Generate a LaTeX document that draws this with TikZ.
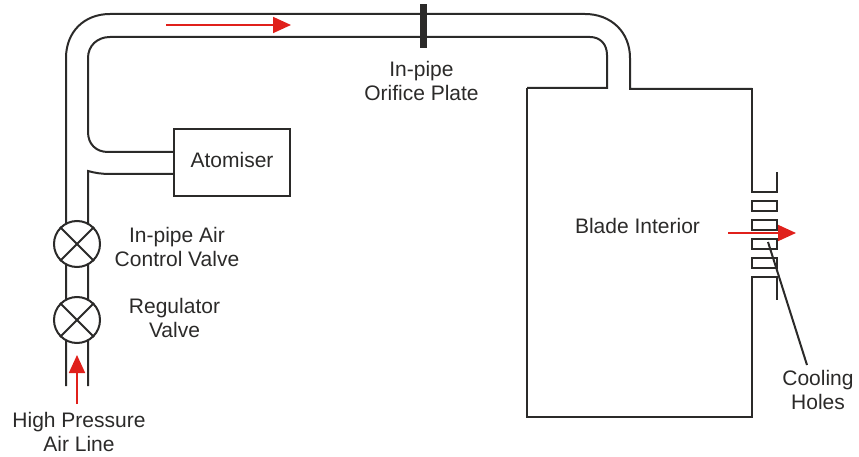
\documentclass[tikz,border=0pt]{standalone}
\usepackage{fontspec}
\setmainfont{Liberation Sans}
\usetikzlibrary{arrows.meta}
\definecolor{ink}{HTML}{2B2A29}
\definecolor{flow}{HTML}{E0201B}
\tikzset{
  pipe/.style={draw=ink,line width=2pt},
  thick wall/.style={draw=ink,line width=2.6pt},
  label/.style={font=\fontsize{21}{24}\selectfont,text=ink,align=center,inner sep=0pt},
  redarrow/.style={draw=flow,line width=1.8pt,-{Triangle[length=18pt,width=16pt,fill=flow]}},
  valve/.style={circle,draw=ink,line width=2pt,minimum size=46pt,inner sep=0pt,fill=white}
}
\begin{document}
\begin{tikzpicture}[x=1pt,y=-1pt]
\useasboundingbox (0,0) rectangle (859,457);
% anchors
\coordinate (outS) at (66,386);
\coordinate (innS) at (88,386);
\coordinate (outE) at (630,89);
\coordinate (innE) at (607,88);
% pipe walls
\draw[pipe] (outS) -- (66,58) .. controls (66,32) and (84,14) .. (110,14) -- (585,14) .. controls (611,14) and (630,32) .. (630,58) -- (outE) -- (752,89);
\draw[pipe] (527,88) -- (innE) -- (607,55) .. controls (607,44) and (600,37) .. (590,37) -- (110,37) .. controls (97,37) and (88,46) .. (88,58) -- (88,132) .. controls (88,144) and (96,152) .. (108,152) -- (174,152);
\draw[pipe] (innS) -- (88,171) .. controls (95,173) and (102,174) .. (110,174) -- (174,174);
% blade
\draw[pipe] (527,88) -- (527,417) -- (752,417) -- (752,277) -- (777,277) -- (777,300);
\draw[pipe] (752,88) -- (752,192) -- (777,192) -- (777,172);
\draw[thick wall] (752,201) rectangle (777,211);
\draw[thick wall] (752,220) rectangle (777,230);
\draw[thick wall] (752,239) rectangle (777,249);
\draw[thick wall] (752,258) rectangle (777,268);
% atomiser
\node[draw=ink,line width=2pt,minimum width=116pt,minimum height=67pt,inner sep=0pt,label] (atom) at (232,162.5) {\raisebox{6pt}{Atomiser}};
% valves
\node[valve] (v1) at (77,244) {};
\node[valve] (v2) at (77,320) {};
\foreach \v in {v1,v2}{
  \draw[pipe] (\v.north west) -- (\v.south east);
  \draw[pipe] (\v.north east) -- (\v.south west);
}
% orifice plate
\node[fill=ink,minimum width=7pt,minimum height=44pt,inner sep=0pt] (plate) at (423.5,26) {};
% red arrows
\coordinate (a1s) at (166,25); \coordinate (a1e) at (291,25);
\coordinate (a2s) at (77,404); \coordinate (a2e) at (77,355);
\coordinate (a3s) at (728,233); \coordinate (a3e) at (796,233);
\draw[redarrow] (a1s) -- (a1e);
\draw[redarrow] (a2s) -- (a2e);
\draw[redarrow] (a3s) -- (a3e);
% leader
\coordinate (l1) at (768,242); \coordinate (l2) at (807,365);
\draw[ink,line width=2pt] (l1) -- (l2);
% labels
\node[label] (t1) at (421.5,81) {In-pipe\\Orifice Plate};
\node[label] (t2) at (177,247) {In-pipe Air\\Control Valve};
\node[label] (t3) at (174.5,318) {Regulator\\Valve};
\node[label] (t4) at (79,432) {High Pressure\\Air Line};
\node[label] (t5) at (637.5,226) {Blade Interior};
\node[label] (t6) at (818,390) {Cooling\\Holes};
\end{tikzpicture}
\end{document}
